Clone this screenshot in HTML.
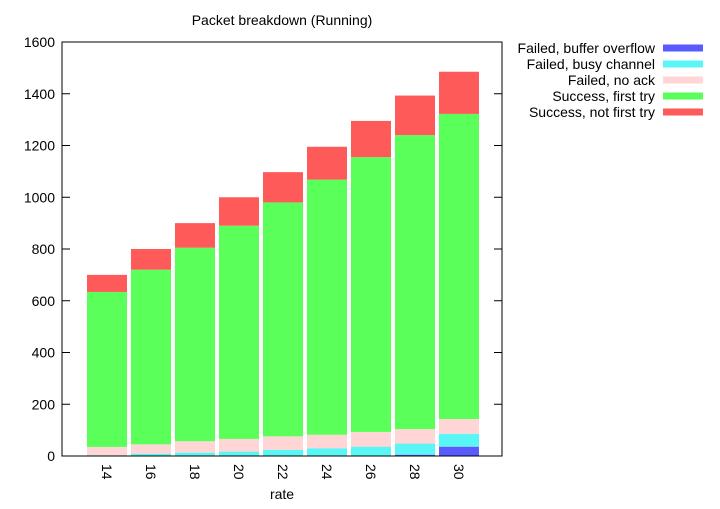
<!DOCTYPE html>
<html><head><meta charset="utf-8"><style>
body{margin:0;background:#fff}
text{font-family:"Liberation Sans",sans-serif;font-size:14px;fill:#000}
</style></head><body>
<svg id="c" width="720" height="504"></svg>
<script>
const categories=["14","16","18","20","22","24","26","28","30"];
const bufferOverflow=[0,0,0,0,0,0,0,5,36];
const busyChannel=[3,9,13,17,24,30,36,43,50];
const noAck=[32,36,44,49,52,52,57,56,57];
const firstTry=[599,675,748,824,904,986,1062,1136,1179];
const notFirstTry=[66,80,95,110,117,127,140,153,163];
const yTicks=[0,200,400,600,800,1000,1200,1400,1600];
const series=[
 {name:"Failed, buffer overflow",vals:bufferOverflow,color:"#5a5aff",key:"buffer-overflow"},
 {name:"Failed, busy channel",vals:busyChannel,color:"#5af5f5",key:"busy-channel"},
 {name:"Failed, no ack",vals:noAck,color:"#ffd5d5",key:"no-ack"},
 {name:"Success, first try",vals:firstTry,color:"#5aff5a",key:"first-try"},
 {name:"Success, not first try",vals:notFirstTry,color:"#ff5a5a",key:"not-first-try"}
];
const L=62,R=502,T=42,B=456,yMax=1600;
const y=v=>B-(v/yMax)*(B-T);
const xc=i=>107+i*44;
const NS="http://www.w3.org/2000/svg";
const svg=document.getElementById('c');
function mk(t,a,p){const e=document.createElementNS(NS,t);for(const k in a)e.setAttribute(k,a[k]);(p||svg).appendChild(e);return e;}
let e=mk('text',{x:282,y:25,'text-anchor':'middle'});e.textContent="Packet breakdown (Running)";


categories.forEach((c,i)=>{
 let cum=0;
 series.forEach(s=>{
  const v=s.vals[i];
  if(v>0){
   const r=mk('rect',{x:xc(i)-20,y:y(cum+v),width:40,height:y(cum)-y(cum+v),fill:s.color});
   
   
  }
  cum+=v;
 });
 const t=mk('text',{x:0,y:0,transform:`translate(${xc(i)-5},464) rotate(90)`,'text-anchor':'start'});
 t.textContent=c;
 
 
});
e=mk('rect',{x:L,y:T,width:R-L,height:B-T,fill:'none',stroke:'#000','stroke-width':1});


yTicks.forEach(v=>{
 mk('line',{x1:L,x2:L+8,y1:y(v),y2:y(v),stroke:'#000'});
 mk('line',{x1:R-8,x2:R,y1:y(v),y2:y(v),stroke:'#000'});
 const t=mk('text',{x:55,y:y(v)+5,'text-anchor':'end'});t.textContent=v;
 
 
});
e=mk('text',{x:282,y:499,'text-anchor':'middle'});e.textContent="rate";


series.forEach((s,k)=>{
 const yy=48+k*16;
 const t=mk('text',{x:655,y:yy+5,'text-anchor':'end'});t.textContent=s.name;
 
 
 const r=mk('rect',{x:663,y:yy-3.5,width:40,height:7,fill:s.color});
 
 
});
</script>
</body></html>
